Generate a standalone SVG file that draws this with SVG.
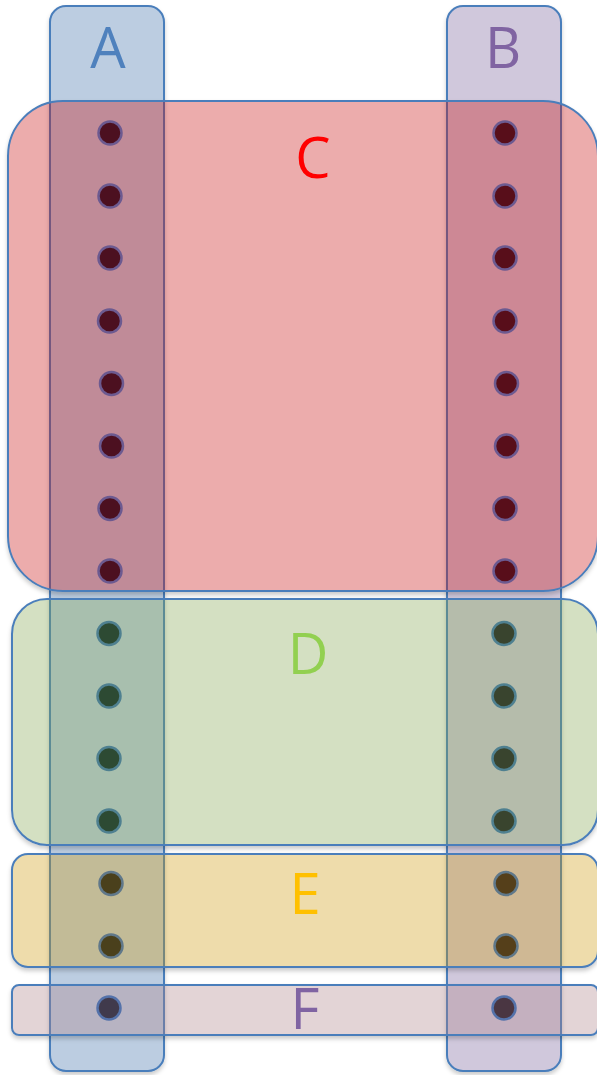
<svg xmlns="http://www.w3.org/2000/svg" width="597" height="1075" viewBox="0 0 597 1075">
  <defs>
    <filter id="sh" x="-10%" y="-10%" width="120%" height="120%">
      <feDropShadow dx="0" dy="3" stdDeviation="2" flood-color="#000" flood-opacity="0.2"/>
    </filter>
    <filter id="shOut" x="-10%" y="-10%" width="120%" height="130%">
      <feGaussianBlur in="SourceAlpha" stdDeviation="2"/>
      <feOffset dx="0" dy="3" result="b"/>
      <feFlood flood-color="#000" flood-opacity="0.2"/>
      <feComposite in2="b" operator="in" result="s"/>
      <feComposite in="s" in2="SourceAlpha" operator="out"/>
    </filter>
  </defs>
  <style>
    .col { stroke: #4a7ebb; stroke-width: 2; filter: url(#sh); }
    .shd { fill: #000; stroke: #000; stroke-width: 2; filter: url(#shOut); }
    .reg { stroke: #4a7ebb; stroke-width: 2; fill-opacity: 0.34; }
    .lbl { font-family: "Open Sans", "Noto Sans", sans-serif; font-size: 56px; text-anchor: middle; }
    .dc { stroke: #6c5a90; stroke-width: 2.5; }
    .dd { stroke: #4f8090; stroke-width: 2.5; }
    .de { stroke: #60788a; stroke-width: 2.5; }
    .df { stroke: #5472aa; stroke-width: 2.5; }
  </style>
  <rect x="0" y="0" width="597" height="1075" fill="#ffffff"/>
  <g id="A">
    <rect class="col" x="50" y="6" width="114" height="1065" rx="16" ry="16" fill="#bccde1"/>
    <text class="lbl" x="108" y="68" fill="#4f81bd">A</text>
  </g>
  <g id="B">
    <rect class="col" x="447" y="6" width="114" height="1065" rx="16" ry="16" fill="#d0c8dc"/>
    <text class="lbl" x="503" y="68" fill="#8064a2">B</text>
  </g>
  <g id="C">
    <rect class="shd" x="8" y="101" width="590" height="490" rx="55" ry="55"/>
    <rect class="reg" x="8" y="101" width="590" height="490" rx="55" ry="55" fill="#c80b0b"/>
    <text class="lbl" x="313" y="178" fill="#ff0000">C</text>
  </g>
  <g id="D">
    <rect class="shd" x="12" y="599" width="586" height="246" rx="35" ry="35"/>
    <rect class="reg" x="12" y="599" width="586" height="246" rx="35" ry="35" fill="#80a44c"/>
    <text class="lbl" x="308" y="674" fill="#92d050">D</text>
  </g>
  <g id="E">
    <rect class="shd" x="12" y="854" width="586" height="113" rx="16" ry="16"/>
    <rect class="reg" x="12" y="854" width="586" height="113" rx="16" ry="16" fill="#cd9808"/>
    <text class="lbl" x="305" y="914" fill="#ffc000">E</text>
  </g>
  <g id="F">
    <rect class="shd" x="12" y="985" width="586" height="50" rx="7" ry="7"/>
    <rect class="reg" x="12" y="985" width="586" height="50" rx="7" ry="7" fill="#ad8186"/>
    <text class="lbl" x="305" y="1029" fill="#8064a2">F</text>
  </g>
  <g id="dots">
    <g fill="#4c1020" class="dc">
      <circle cx="110" cy="133" r="11.5"/>
      <circle cx="110" cy="196" r="11.5"/>
      <circle cx="110" cy="258" r="11.5"/>
      <circle cx="109.5" cy="321" r="11.5"/>
      <circle cx="111.5" cy="383.5" r="11.5"/>
      <circle cx="111.5" cy="446" r="11.5"/>
      <circle cx="110" cy="508.5" r="11.5"/>
      <circle cx="110" cy="571" r="11.5"/>
    </g>
    <g fill="#580e1a" class="dc">
      <circle cx="505" cy="133" r="11.5"/>
      <circle cx="505" cy="196" r="11.5"/>
      <circle cx="505" cy="258" r="11.5"/>
      <circle cx="505" cy="321" r="11.5"/>
      <circle cx="506.5" cy="383.5" r="11.5"/>
      <circle cx="506.5" cy="446" r="11.5"/>
      <circle cx="505" cy="508.5" r="11.5"/>
      <circle cx="505" cy="571" r="11.5"/>
    </g>
    <g fill="#2d4a33" class="dd">
      <circle cx="109" cy="633.5" r="11.5"/>
      <circle cx="109" cy="696" r="11.5"/>
      <circle cx="109" cy="758.5" r="11.5"/>
      <circle cx="109" cy="821" r="11.5"/>
    </g>
    <g fill="#39442e" class="dd">
      <circle cx="504" cy="633.5" r="11.5"/>
      <circle cx="504" cy="696" r="11.5"/>
      <circle cx="504" cy="758.5" r="11.5"/>
      <circle cx="504" cy="821" r="11.5"/>
    </g>
    <g fill="#4a401c" class="de">
      <circle cx="111" cy="883.5" r="11.5"/>
      <circle cx="111" cy="946" r="11.5"/>
    </g>
    <g fill="#553f1a" class="de">
      <circle cx="506" cy="883.5" r="11.5"/>
      <circle cx="506" cy="946" r="11.5"/>
    </g>
    <circle cx="109" cy="1008" r="11.5" fill="#403a4c" class="df"/>
    <circle cx="504" cy="1008" r="11.5" fill="#4a3642" class="df"/>
  </g>
  <g id="connectors"/>
</svg>
